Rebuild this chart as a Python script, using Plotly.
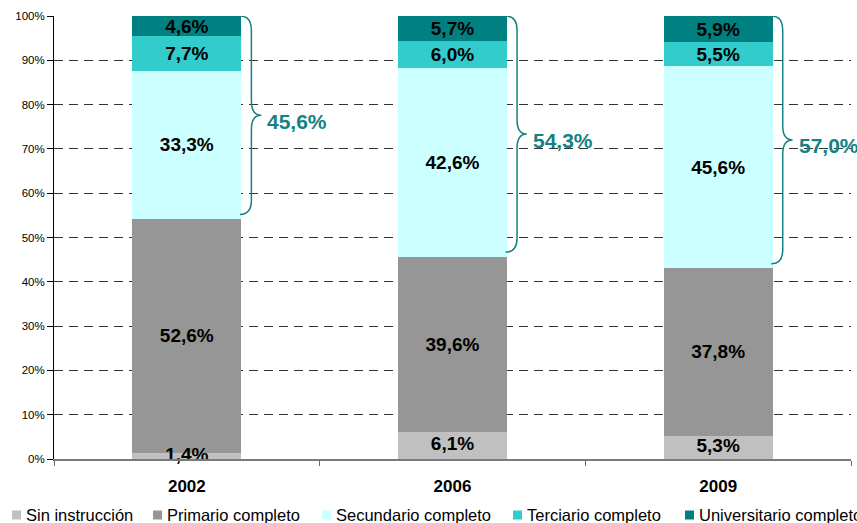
"""Stacked 100% bars: nivel educativo por año, con llaves para secundario+."""
import plotly.graph_objects as go

YEARS = ["2002", "2006", "2009"]
SERIES = [
    "Sin instrucción",
    "Primario completo",
    "Secundario completo",
    "Terciario completo",
    "Universitario completo",
]
SIN_INSTRUCCION = [1.4, 6.1, 5.3]
PRIMARIO = [52.6, 39.6, 37.8]
SECUNDARIO = [33.3, 42.6, 45.6]
TERCIARIO = [7.7, 6.0, 5.5]
UNIVERSITARIO = [4.6, 5.7, 5.9]
SECUNDARIO_O_MAS = [45.6, 54.3, 57.0]

COLORS = ["#C0C0C0", "#969696", "#CCFFFF", "#33CCCC", "#008080"]
BRACE_COLOR = "#148282"
FONT = "Arial, Liberation Sans, sans-serif"
LABEL_FONT = dict(family=FONT, size=19, color="black", weight="bold")

W, H = 857, 523
M_L, M_R, M_T, M_B = 54, 6, 16, 64
PLOT_W = W - M_L - M_R
PLOT_H = H - M_T - M_B


def fmt(v):
    return f"{v:.1f}".replace(".", ",") + "%"


values = [SIN_INSTRUCCION, PRIMARIO, SECUNDARIO, TERCIARIO, UNIVERSITARIO]
totals = [sum(v[i] for v in values) for i in range(len(YEARS))]

fig = go.Figure()
for k, (name, vals, color) in enumerate(zip(SERIES, values, COLORS)):
    fig.add_trace(
        go.Bar(
            x=YEARS,
            y=vals,
            name=name,
            marker=dict(color=color, line=dict(width=0)),
            # the thin bottom segment gets its label from a text trace on top
            text=[fmt(v) for v in vals] if k > 0 else None,
            textposition="inside",
            insidetextanchor="middle",
            textangle=0,
            textfont=LABEL_FONT,
            showlegend=False,
            hoverinfo="skip",
        )
    )

# label for "Sin instrucción", drawn above the stacked bars
fig.add_trace(
    go.Scatter(
        x=YEARS,
        y=[v / t * 100 / 2 for v, t in zip(SIN_INSTRUCCION, totals)],
        mode="text",
        text=[fmt(v) for v in SIN_INSTRUCCION],
        textposition="middle center",
        textfont=LABEL_FONT,
        showlegend=False,
        hoverinfo="skip",
        cliponaxis=False,
    )
)

# braces: from top of bar down to the secundario base
bar_half = 0.2
for i, pct in enumerate(SECUNDARIO_O_MAS):
    base = (SIN_INSTRUCCION[i] + PRIMARIO[i]) / totals[i] * 100 + 1
    top = 100
    mid = (top + base) / 2
    xl = i + bar_half
    xv = xl + 0.043
    xc = xl + 0.08
    r = 3.2
    path = (
        f"M {xl},{top} Q {xv},{top} {xv},{top - r} "
        f"L {xv},{mid + r} Q {xv},{mid} {xc},{mid} "
        f"Q {xv},{mid} {xv},{mid - r} "
        f"L {xv},{base + r} Q {xv},{base} {xl},{base}"
    )
    fig.add_shape(
        type="path",
        path=path,
        xref="x",
        yref="y",
        line=dict(color=BRACE_COLOR, width=1.5),
    )
    fig.add_annotation(
        x=xc,
        y=mid,
        xref="x",
        yref="y",
        text=f"<b>{fmt(pct)}</b>",
        showarrow=False,
        xanchor="left",
        yanchor="middle",
        xshift=4,
        yshift=-6,
        font=dict(family=FONT, size=21, color=BRACE_COLOR),
    )


# legend drawn by hand so it sits in one row like the original
def px_x(px):
    return (px - M_L) / PLOT_W


def px_y(py):
    return (H - M_B - py) / PLOT_H


LEGEND_TEXT_X = [24, 165, 334, 525, 697]
LEGEND_Y = 515
for name, color, tx in zip(SERIES, COLORS, LEGEND_TEXT_X):
    fig.add_shape(
        type="rect",
        xref="paper",
        yref="paper",
        x0=px_x(tx - 12),
        x1=px_x(tx - 3),
        y0=px_y(LEGEND_Y - 4.5),
        y1=px_y(LEGEND_Y + 4.5),
        fillcolor=color,
        line=dict(width=0),
    )
    fig.add_annotation(
        x=px_x(tx),
        y=px_y(LEGEND_Y),
        xref="paper",
        yref="paper",
        text=name,
        showarrow=False,
        xanchor="left",
        yanchor="middle",
        font=dict(family=FONT, size=16.5, color="black"),
    )

fig.update_layout(
    width=W,
    height=H,
    autosize=False,
    barmode="stack",
    barnorm="percent",
    bargap=0.59,
    uniformtext=dict(minsize=19, mode="show"),
    plot_bgcolor="white",
    paper_bgcolor="white",
    margin=dict(l=M_L, r=M_R, t=M_T, b=M_B, autoexpand=False),
    font=dict(family=FONT, color="black"),
    xaxis=dict(
        type="category",
        range=[-0.5, len(YEARS) - 0.5],
        automargin=False,
        tickson="boundaries",
        ticks="outside",
        ticklen=5,
        tickcolor="#666666",
        showline=True,
        linecolor="#7a7a7a",
        linewidth=2,
        showgrid=False,
        tickfont=dict(family=FONT, size=17, color="black", weight="bold"),
        ticklabelstandoff=11,
    ),
    yaxis=dict(
        range=[0, 100],
        automargin=False,
        dtick=10,
        ticksuffix="%",
        ticks="outside",
        ticklen=6,
        tickcolor="black",
        showline=True,
        linecolor="black",
        linewidth=1,
        showgrid=True,
        gridcolor="#333333",
        gridwidth=1,
        griddash="9px,6px",
        zeroline=False,
        tickfont=dict(family=FONT, size=11.5, color="black"),
    ),
)

# page body has a default 8px margin; drop it and pin the figure size
post = (
    "document.body.style.margin='0';"
    "document.body.style.overflow='hidden';"
    f"Plotly.relayout('{{plot_id}}', {{width: {W}, height: {H}}});"
)
fig.write_html(
    "out.html",
    config={"displayModeBar": False, "responsive": False},
    post_script=post,
)
